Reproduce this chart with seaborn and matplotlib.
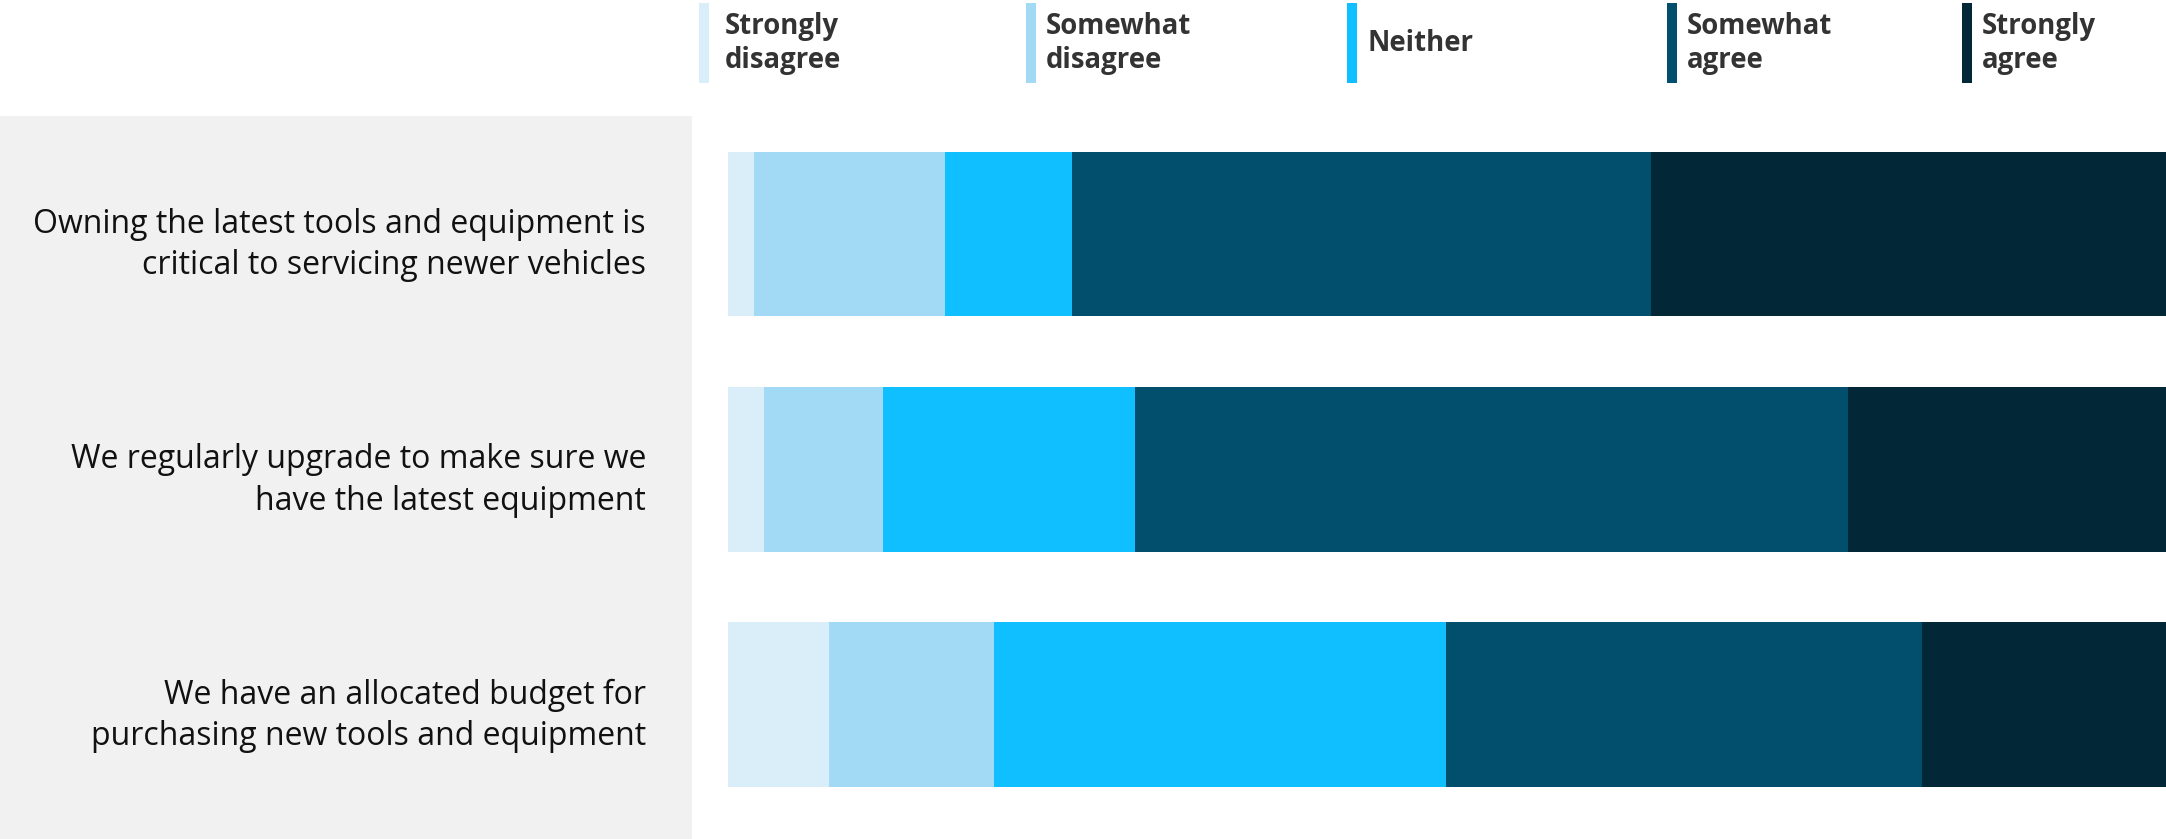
import matplotlib
matplotlib.use("Agg")
import matplotlib.pyplot as plt
import matplotlib.transforms as mtransforms
import seaborn as sns
import pandas as pd
import numpy as np
from matplotlib.patches import Rectangle

# ---- data ----
statements = [
    "Owning the latest tools and equipment is\ncritical to servicing newer vehicles",
    "We regularly upgrade to make sure we\nhave the latest equipment",
    "We have an allocated budget for\npurchasing new tools and equipment",
]
responses = ["Strongly disagree", "Somewhat disagree", "Neither", "Somewhat agree", "Strongly agree"]
legend_labels = ["Strongly\ndisagree", "Somewhat\ndisagree", "Neither", "Somewhat\nagree", "Strongly\nagree"]
strongly_disagree = [1.8, 2.5, 7.0]
somewhat_disagree = [13.3, 8.3, 11.5]
neither = [8.8, 17.5, 31.4]
somewhat_agree = [40.3, 49.6, 33.1]
strongly_agree = [35.8, 22.1, 17.0]
colors = ["#d9eef9", "#a2d9f4", "#10bfff", "#024f6d", "#022838"]

series = [strongly_disagree, somewhat_disagree, neither, somewhat_agree, strongly_agree]

sns.set_theme(style="white")
plt.rcParams["font.family"] = ["Open Sans", "DejaVu Sans"]

W, H = 2166, 839
fig = plt.figure(figsize=(W / 100, H / 100), dpi=100)
fig.patch.set_facecolor("white")

# grey label panel
fig.add_artist(Rectangle((0, 0), 692 / W, (H - 116) / H, transform=fig.transFigure,
                         facecolor="#f1f1f1", edgecolor="none", zorder=0))

ax = fig.add_axes([728 / W, 0, 1 - 728 / W, (H - 116) / H])
ax.set_facecolor("none")

cum = np.cumsum(np.array(series), axis=0)
for i in range(len(responses) - 1, -1, -1):
    df = pd.DataFrame({"statement": statements, "value": cum[i]})
    sns.barplot(data=df, y="statement", x="value", orient="h", color=colors[i],
                width=0.7, linewidth=0, saturation=1, ax=ax)

ax.set_xlim(0, 100)
ax.set_ylim(2.572, -0.502)
ax.set_xlabel("")
ax.set_ylabel("")
ax.set_xticks([])
for s in ax.spines.values():
    s.set_visible(False)
ax.tick_params(axis="y", length=0, pad=82 * 0.72, labelsize=23, labelcolor="#111111")
shift = mtransforms.ScaledTranslation(0, -3 / 100, fig.dpi_scale_trans)
for t in ax.get_yticklabels():
    t.set_linespacing(1.33)
    t.set_transform(t.get_transform() + shift)

# legend
leg_x = [699, 1026, 1347, 1667, 1962]
leg_tx = [725, 1046, 1368, 1687, 1982]
for x, tx, lab, c in zip(leg_x, leg_tx, legend_labels, colors):
    fig.add_artist(Rectangle((x / W, 1 - 83 / H), 10 / W, 80 / H, transform=fig.transFigure,
                             facecolor=c, edgecolor="none"))
    fig.text(tx / W, 1 - 43.5 / H, lab, ha="left", va="center", fontsize=19.8,
             fontweight="bold", color="#333333", linespacing=1.22)

fig.savefig("out.png", dpi=100)
